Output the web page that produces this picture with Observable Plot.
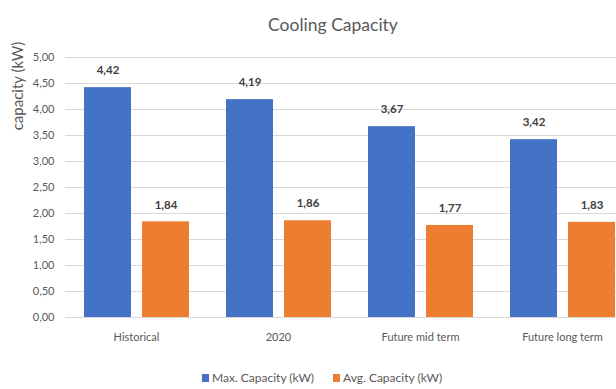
<!DOCTYPE html>
<html>
<head>
<meta charset="utf-8">
<script src="https://cdn.jsdelivr.net/npm/d3@7"></script>
<script src="https://cdn.jsdelivr.net/npm/@observablehq/plot@0.6"></script>
<style>
  body { margin: 0; background: #fff; font-family: Lato, "Open Sans", sans-serif; }
  #wrap { position: relative; width: 616px; height: 389px; overflow: hidden; background: #fff; }
  #title { position: absolute; left: 0; top: 14px; width: 616px; padding-left: 50px; box-sizing: border-box;
           text-align: center; font-size: 17.5px; line-height: 22px; color: #595959; }
  #ylabel { position: absolute; left: 17px; top: 86px; transform: translate(-50%, -50%) rotate(-90deg);
            font-size: 15px; color: #595959; white-space: nowrap; }
  #chart { position: absolute; left: 0; top: 40px; }
  #legend { position: absolute; top: 372px; left: 202px; display: flex; gap: 19px; font-size: 12px;
            line-height: 12px; color: #595959; }
  .item { display: flex; align-items: center; gap: 3px; }
  .sw { width: 7px; height: 8px; display: inline-block; }
</style>
</head>
<body>
<div id="wrap">
  <div id="title">Cooling Capacity</div>
  <div id="ylabel">capacity (kW)</div>
  <div id="chart"></div>
  <div id="legend"></div>
</div>
<script>
// Cooling capacity per period, in kW
const categories = ["Historical", "2020", "Future mid term", "Future long term"];
const series = ["Max. Capacity (kW)", "Avg. Capacity (kW)"];
const maxCapacity = [4.42, 4.19, 3.67, 3.42];
const avgCapacity = [1.84, 1.86, 1.77, 1.83];
const yTicks = [0, 0.5, 1, 1.5, 2, 2.5, 3, 3.5, 4, 4.5, 5];
const colors = ["#4472C4", "#ED7D31"];

const rows = categories.flatMap((c, i) => [
  {category: c, series: series[0], value: maxCapacity[i]},
  {category: c, series: series[1], value: avgCapacity[i]}
]);

// decimal comma, two decimals
const fmt = v => v.toFixed(2).replace(".", ",");

const chart = Plot.plot({
  width: 616,
  height: 306,
  marginLeft: 64,
  marginRight: -17,
  marginTop: 17,
  marginBottom: 29,
  style: {fontFamily: "Lato, 'Open Sans', sans-serif", fontSize: "11px", color: "#595959", background: "transparent", overflow: "visible"},
  facet: {data: rows, x: "category"},
  fx: {domain: categories, padding: 0, axis: "bottom", label: null, tickSize: 0, tickPadding: 16},
  x: {domain: series, axis: null, paddingInner: 0.19, paddingOuter: 0.3},
  y: {domain: [0, 5], ticks: yTicks, tickFormat: fmt, label: null, tickSize: 0, tickPadding: 11},
  color: {domain: series, range: colors},
  marks: [
    Plot.ruleY(yTicks, {stroke: "#d9d9d9", strokeWidth: 1}),
    Plot.barY(rows, {x: "series", y: "value", fill: "series"}),
    Plot.text(rows, {x: "series", y: "value", text: d => fmt(d.value), dy: -17,
                     fill: "#404040", fontWeight: "bold", fontSize: 11.5})
  ]
});
document.getElementById("chart").appendChild(chart);

// legend
const legend = document.getElementById("legend");
series.forEach((s, i) => {
  const item = document.createElement("div");
  item.className = "item";
  const sw = document.createElement("span");
  sw.className = "sw";
  sw.style.background = colors[i];
  const label = document.createElement("span");
  label.textContent = s;
  item.appendChild(sw);
  item.appendChild(label);
  legend.appendChild(item);
});
</script>
</body>
</html>
